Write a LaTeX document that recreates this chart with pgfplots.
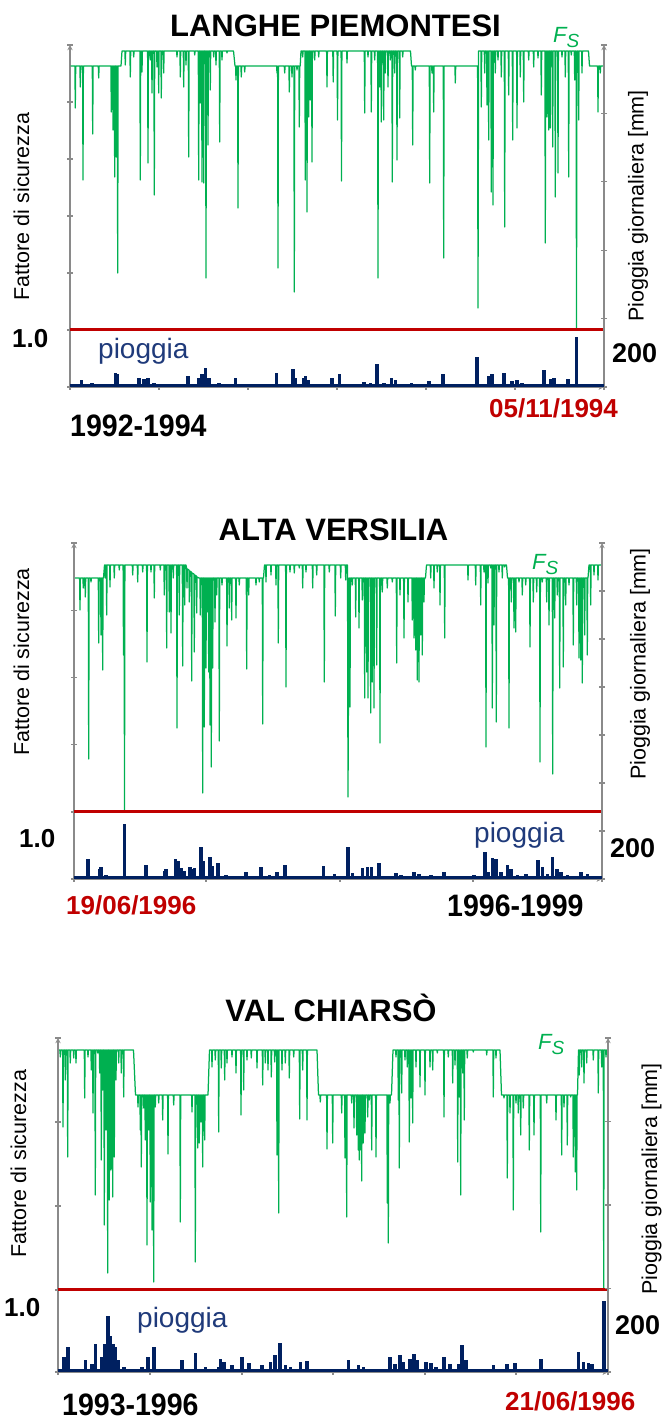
\documentclass[border=0pt]{standalone}
\usepackage{fontspec}
\setmainfont{Liberation Sans}
\usepackage{graphicx}
\usepackage{pgfplots}
\pgfplotsset{compat=1.18}
\definecolor{fsgreen}{HTML}{00B050}
\definecolor{redl}{HTML}{C00000}
\definecolor{navyr}{HTML}{002060}
\definecolor{pioggiac}{HTML}{1F3A7A}
\definecolor{axgray}{HTML}{8A8A8A}
\newcommand\ttl{\fontsize{31}{31}\selectfont\bfseries}
\newcommand\lab{\fontsize{21.5}{21.5}\selectfont}
\newcommand\numf{\fontsize{26}{26}\selectfont\bfseries}
\newcommand\numr{\fontsize{27}{27}\selectfont\bfseries}
\newcommand\pio{\fontsize{28}{28}\selectfont}
\newcommand\yr[1]{\scalebox{0.92}[1]{\fontsize{31}{31}\selectfont\bfseries #1}}
\newcommand\dt{\fontsize{26}{26}\selectfont\bfseries}
\newcommand\fs{{\fontsize{22}{22}\selectfont\itshape F\raisebox{-5pt}{\fontsize{19}{19}\selectfont S}}}
\pgfplotsset{
  baseax/.style={scale only axis, anchor=south west,
    axis line style={-, axgray, line width=1.3pt},
    every outer x axis line/.append style={-},
    every outer y axis line/.append style={-},
    tick style={axgray, line width=1.3pt}, major tick length=6pt, tick align=outside,
    xticklabels={}, yticklabels={}},
  fsax/.style={baseax, axis x line=bottom, axis y line=left},
  rainax/.style={baseax, axis x line=bottom, axis y line=right},
  fsline/.style={fsgreen, line width=1.25pt, line join=round, mark=none},
  redline/.style={redl, line width=3pt, mark=none},
  rainbase/.style={navyr, line width=6pt, mark=none},
  rainbar/.style={navyr, ycomb, line width=3.6pt, mark=none},
}
\begin{document}
\begin{tikzpicture}[x=1pt,y=1pt]
\path[use as bounding box] (0pt,0pt) rectangle (664pt,1419pt);
% ================= PANEL 1 =================
\begin{axis}[fsax, name=fsA, at={(70pt,1032pt)}, width=534pt, height=342pt, xmin=0, xmax=534, ymin=0.43, ymax=3.85,
  xtick={0,89,178,267,356,445,534}, ytick={0.43,1,1.57,2.14,2.71,3.28,3.85}]
\addplot[fsline] coordinates {
(0.5,3.64)
(4.9,3.64)(5.3,3.22)(5.7,3.64)(9.9,3.64)(10.3,3.43)(10.7,3.64)(12.6,3.64)(13.0,2.50)(13.4,3.64)
(22.3,3.64)(22.7,2.96)(23.1,3.64)(28.3,3.64)(28.7,3.52)(29.1,3.64)(40.9,3.64)(41.3,3.18)(41.7,3.64)
(42.6,3.64)(43.0,3.00)(43.4,3.64)(44.3,3.64)(44.7,2.53)(45.1,3.64)(45.9,3.64)(46.3,2.73)(46.7,3.64)
(47.3,3.64)(47.7,1.57)(48.1,3.64)
(51.0,3.64)(52.0,3.79)
(54.9,3.79)(55.3,3.65)(55.7,3.79)(59.9,3.79)(60.3,3.53)(60.7,3.79)(63.3,3.79)(63.7,3.73)(64.1,3.79)
(69.9,3.79)(70.3,2.50)(70.7,3.79)(71.6,3.79)(72.0,3.58)(72.4,3.79)(77.6,3.79)(78.0,2.67)(78.4,3.79)
(79.9,3.79)(80.3,3.70)(80.7,3.79)(81.6,3.79)(82.0,3.37)(82.4,3.79)(83.9,3.79)(84.3,2.35)(84.7,3.79)
(86.6,3.79)(87.0,3.63)(87.4,3.79)(88.3,3.79)(88.7,3.37)(89.1,3.79)(90.9,3.79)(91.3,3.32)(91.7,3.79)
(93.3,3.79)(93.7,3.57)(94.1,3.79)(106.6,3.79)(107.0,3.73)(107.4,3.79)(109.9,3.79)(110.3,3.53)(110.7,3.79)
(113.3,3.79)(113.7,3.43)(114.1,3.79)(115.6,3.79)(116.0,3.65)(116.4,3.79)(118.3,3.79)(118.7,2.73)(119.1,3.79)
(124.3,3.79)(124.7,3.75)(125.1,3.79)(128.3,3.79)(128.7,2.50)(129.1,3.79)(129.9,3.79)(130.3,3.27)(130.7,3.79)
(131.6,3.79)(132.0,2.48)(132.4,3.79)(133.3,3.79)(133.7,2.47)(134.1,3.79)(135.6,3.79)(136.0,1.52)(136.4,3.79)
(137.6,3.79)(138.0,2.85)(138.4,3.79)(139.9,3.79)(140.3,3.40)(140.7,3.79)(143.3,3.79)(143.7,3.73)(144.1,3.79)
(145.6,3.79)(146.0,3.65)(146.4,3.79)(149.3,3.79)(149.7,2.88)(150.1,3.79)(151.6,3.79)(152.0,3.70)(152.4,3.79)
(156.6,3.79)(157.0,3.77)(157.4,3.79)
(163.5,3.79)(165.0,3.64)
(165.6,3.64)(166.0,3.50)(166.4,3.64)(167.6,3.64)(168.0,2.22)(168.4,3.64)(170.9,3.64)(171.3,3.53)(171.7,3.64)
(174.3,3.64)(174.7,3.58)(175.1,3.64)(206.6,3.64)(207.0,3.57)(207.4,3.64)(207.6,3.64)(208.0,1.62)(208.4,3.64)
(214.3,3.64)(214.7,3.57)(215.1,3.64)(218.9,3.64)(219.3,3.38)(219.7,3.64)(221.6,3.64)(222.0,3.53)(222.4,3.64)
(223.9,3.64)(224.3,1.38)(224.7,3.64)(226.6,3.64)(227.0,3.60)(227.4,3.64)(228.9,3.64)(229.3,3.03)(229.7,3.64)
(230.2,3.64)(231.0,3.79)
(232.3,3.79)(232.7,3.73)(233.1,3.79)(234.9,3.79)(235.3,2.50)(235.7,3.79)(236.6,3.79)(237.0,2.18)(237.4,3.79)
(238.3,3.79)(238.7,3.13)(239.1,3.79)(239.9,3.79)(240.3,3.30)(240.7,3.79)(241.6,3.79)(242.0,2.68)(242.4,3.79)
(244.3,3.79)(244.7,3.70)(245.1,3.79)(248.3,3.79)(248.7,3.73)(249.1,3.79)(256.6,3.79)(257.0,3.43)(257.4,3.79)
(262.8,3.79)(263.2,3.48)(263.6,3.79)(267.1,3.79)(267.5,3.10)(267.9,3.79)(271.1,3.79)(271.5,2.49)(271.9,3.79)
(276.6,3.79)(277.0,3.67)(277.4,3.79)(294.3,3.79)(294.7,3.17)(295.1,3.79)(297.6,3.79)(298.0,3.73)(298.4,3.79)
(300.9,3.79)(301.3,3.18)(301.7,3.79)(304.3,3.79)(304.7,3.70)(305.1,3.79)(307.6,3.79)(308.0,1.52)(308.4,3.79)
(309.3,3.79)(309.7,3.43)(310.1,3.79)(310.9,3.79)(311.3,3.08)(311.7,3.79)(313.3,3.79)(313.7,3.10)(314.1,3.79)
(314.9,3.79)(315.3,3.57)(315.7,3.79)(317.6,3.79)(318.0,3.43)(318.4,3.79)(319.9,3.79)(320.3,3.70)(320.7,3.79)
(321.9,3.79)(322.3,2.48)(322.7,3.79)(324.3,3.79)(324.7,3.57)(325.1,3.79)(326.6,3.79)(327.0,2.70)(327.4,3.79)
(329.3,3.79)(329.7,3.12)(330.1,3.79)(332.3,3.79)(332.7,3.73)(333.1,3.79)
(340.5,3.79)(341.5,3.64)
(342.3,3.64)(342.7,2.85)(343.1,3.64)(344.9,3.64)(345.3,3.60)(345.7,3.64)(359.3,3.64)(359.7,2.47)(360.1,3.64)
(361.6,3.64)(362.0,3.57)(362.4,3.64)(363.3,3.64)(363.7,3.18)(364.1,3.64)(373.3,3.64)(373.7,1.72)(374.1,3.64)
(384.9,3.64)(385.3,3.47)(385.7,3.64)
(407.6,3.64)(408.0,1.22)(408.6,3.79)
(410.9,3.79)(411.3,3.23)(411.7,3.79)(414.3,3.79)(414.7,3.57)(415.1,3.79)(416.6,3.79)(417.0,3.25)(417.4,3.79)
(418.3,3.79)(418.7,2.90)(419.1,3.79)(420.9,3.79)(421.3,2.38)(421.7,3.79)(422.6,3.79)(423.0,2.25)(423.4,3.79)
(424.9,3.79)(425.3,3.57)(425.7,3.79)(427.6,3.79)(428.0,3.70)(428.4,3.79)(430.9,3.79)(431.3,3.53)(431.7,3.79)
(434.3,3.79)(434.7,2.03)(435.1,3.79)(438.3,3.79)(438.7,3.35)(439.1,3.79)(442.3,3.79)(442.7,2.90)(443.1,3.79)
(446.6,3.79)(447.0,3.02)(447.4,3.79)(449.9,3.79)(450.3,3.53)(450.7,3.79)(453.3,3.79)(453.7,3.28)(454.1,3.79)
(458.3,3.79)(458.7,3.70)(459.1,3.79)(463.3,3.79)(463.7,3.63)(464.1,3.79)(467.6,3.79)(468.0,3.72)(468.4,3.79)
(470.9,3.79)(471.3,3.35)(471.7,3.79)(474.9,3.79)(475.3,1.87)(475.7,3.79)(476.6,3.79)(477.0,3.13)(477.4,3.79)
(478.3,3.79)(478.7,3.00)(479.1,3.79)(479.9,3.79)(480.3,3.02)(480.7,3.79)(482.3,3.79)(482.7,2.83)(483.1,3.79)
(484.9,3.79)(485.3,2.33)(485.7,3.79)(487.6,3.79)(488.0,2.57)(488.4,3.79)(491.6,3.79)(492.0,3.73)(492.4,3.79)
(494.9,3.79)(495.3,3.53)(495.7,3.79)(498.3,3.79)(498.7,2.53)(499.1,3.79)(500.9,3.79)(501.3,3.75)(501.7,3.79)
(504.3,3.79)(504.7,3.50)(505.1,3.79)(506.1,3.79)(506.5,1.00)(506.9,3.79)(508.3,3.79)(508.7,3.10)(509.1,3.79)
(511.6,3.79)(512.0,3.57)(512.4,3.79)
(518.5,3.79)(519.5,3.64)
(527.6,3.64)(528.0,3.18)(528.4,3.64)(529.9,3.64)(530.3,3.57)(530.7,3.64)(533.5,3.64)
};
\addplot[redline] coordinates {(0,1)(534,1)};
\end{axis}
\begin{axis}[rainax, at={(fsA.south west)}, width=534pt, height=342pt, xmin=0, xmax=534, ymin=0, ymax=1000,
  xtick={0,89,178,267,356,445,534}, ytick={0,200,400,600,800,1000}]
\addplot[rainbase] coordinates {(0,0)(534,0)};
\addplot[rainbar] coordinates {
(3.7,8)(11.3,20)(22.0,13)(45.3,42)(47.0,37)(60.3,8)(68.7,25)(73.7,22)(78.0,25)(83.7,13)(92.0,8)
(118.0,32)(128.7,27)(132.0,37)(135.3,55)(138.7,27)(148.7,13)(165.3,25)(206.3,40)(222.7,52)(225.3,27)
(233.7,27)(235.3,32)(238.0,20)(255.3,8)(262.0,25)(269.5,37)(293.7,16)(300.3,13)(307.0,68)(313.7,13)
(321.3,27)(325.3,20)(341.3,13)(358.7,18)(372.7,37)(383.7,3)(407.0,88)(418.7,32)(422.0,37)(433.7,42)
(442.0,18)(447.0,20)(452.0,13)(473.7,49)(480.3,22)(483.7,25)(498.0,22)(506.5,146)(527.0,8)
};
\end{axis}
\node[anchor=base, inner sep=0] at (335.5pt,1382pt) {\ttl LANGHE PIEMONTESI};
\node[anchor=base west, inner sep=0, text=fsgreen] at (553pt,1376pt) {\fs};
\node[rotate=90, inner sep=0] at (21.5pt,1212.5pt) {\lab Fattore di sicurezza};
\node[rotate=90, inner sep=0] at (638pt,1213pt) {\lab Pioggia giornaliera [mm]};
\node[anchor=base west, inner sep=0] at (12pt,1071pt) {\numf 1.0};
\node[anchor=base west, inner sep=0, text=pioggiac] at (98pt,1060pt) {\pio pioggia};
\node[anchor=base west, inner sep=0] at (612pt,1056pt) {\numr 200};
\node[anchor=base west, inner sep=0] at (70pt,982pt) {\yr{1992-1994}};
\node[anchor=base west, inner sep=0, text=redl] at (489pt,1001pt) {\dt 05/11/1994};
% ================= PANEL 2 =================
\begin{axis}[fsax, name=fsB, at={(74pt,540pt)}, width=528pt, height=336pt, xmin=0, xmax=528, ymin=0.33, ymax=3.69,
  xtick={0,132,266,399,528}, ytick={0.33,1,1.6725,2.345,3.0175,3.69}]
\addplot[fsline] coordinates {
(1.0,3.34)
(5.6,3.34)(6.0,3.02)(6.4,3.34)(8.9,3.34)(9.3,3.24)(9.7,3.34)(10.9,3.34)(11.3,3.15)(11.7,3.34)
(14.3,3.34)(14.7,1.53)(15.1,3.34)(16.6,3.34)(17.0,3.30)(17.4,3.34)(24.3,3.34)(24.7,2.69)(25.1,3.34)
(26.6,3.34)(27.0,2.77)(27.4,3.34)(28.3,3.34)(28.7,2.42)(29.1,3.34)
(29.5,3.34)(30.5,3.47)
(30.8,3.47)(31.2,3.34)(31.6,3.47)(32.3,3.47)(32.7,2.97)(33.1,3.47)(35.6,3.47)(36.0,3.25)(36.4,3.47)
(39.9,3.47)(40.3,3.34)(40.7,3.47)(44.9,3.47)(45.3,3.42)(45.7,3.47)(49.1,3.47)(49.5,2.57)(49.9,3.47)
(50.1,3.47)(50.5,1.00)(50.9,3.47)(58.3,3.47)(58.7,3.37)(59.1,3.47)(63.3,3.47)(63.7,3.30)(64.1,3.47)
(68.3,3.47)(68.7,3.40)(69.1,3.47)(72.6,3.47)(73.0,2.50)(73.4,3.47)(76.6,3.47)(77.0,3.40)(77.4,3.47)
(79.9,3.47)(80.3,3.14)(80.7,3.47)(85.9,3.47)(86.3,3.42)(86.7,3.47)(89.9,3.47)(90.3,3.17)(90.7,3.47)
(92.3,3.47)(92.7,2.64)(93.1,3.47)(94.9,3.47)(95.3,3.00)(95.7,3.47)(96.6,3.47)(97.0,2.79)(97.4,3.47)
(98.9,3.47)(99.3,3.34)(99.7,3.47)(102.6,3.47)(103.0,1.84)(103.4,3.47)(104.9,3.47)(105.3,2.97)(105.7,3.47)
(108.3,3.47)(108.7,2.46)(109.1,3.47)(110.3,3.47)(110.7,3.07)(111.1,3.47)
(112.0,3.47)
(112.6,3.44)(113.0,3.24)(113.4,3.43)(114.9,3.42)(115.3,3.10)(115.7,3.41)(117.3,3.40)(117.7,2.31)(118.1,3.39)
(119.9,3.38)(120.3,2.60)(120.7,3.37)(122.3,3.36)(122.7,2.99)(123.1,3.35)
(125.0,3.34)
(125.9,3.34)(126.3,2.97)(126.7,3.34)(128.3,3.34)(128.7,1.19)(129.1,3.34)(129.9,3.34)(130.3,1.85)(130.7,3.34)
(131.6,3.34)(132.0,2.44)(132.4,3.34)(133.3,3.34)(133.7,3.00)(134.1,3.34)(134.3,3.34)(134.7,2.40)(135.1,3.34)
(135.6,3.34)(136.0,1.87)(136.4,3.34)(136.9,3.34)(137.3,1.45)(137.7,3.34)(138.3,3.34)(138.7,2.44)(139.1,3.34)
(140.6,3.34)(141.0,2.90)(141.4,3.34)(142.3,3.34)(142.7,3.17)(143.1,3.34)(144.9,3.34)(145.3,1.71)(145.7,3.34)
(147.6,3.34)(148.0,3.27)(148.4,3.34)(152.6,3.34)(153.0,2.66)(153.4,3.34)(154.9,3.34)(155.3,3.04)(155.7,3.34)
(157.3,3.34)(157.7,2.92)(158.1,3.34)(161.6,3.34)(162.0,2.94)(162.4,3.34)(164.9,3.34)(165.3,3.27)(165.7,3.34)
(172.3,3.34)(172.7,2.43)(173.1,3.34)(174.3,3.34)(174.7,3.17)(175.1,3.34)(181.6,3.34)(182.0,3.27)(182.4,3.34)
(184.9,3.34)(185.3,3.30)(185.7,3.34)(188.3,3.34)(188.7,1.88)(189.1,3.34)
(189.5,3.34)(190.5,3.47)
(191.6,3.47)(192.0,3.30)(192.4,3.47)(196.6,3.47)(197.0,3.37)(197.4,3.47)(201.6,3.47)(202.0,3.27)(202.4,3.47)
(203.9,3.47)(204.3,2.69)(204.7,3.47)(211.6,3.47)(212.0,2.25)(212.4,3.47)(215.6,3.47)(216.0,3.40)(216.4,3.47)
(219.9,3.47)(220.3,3.39)(220.7,3.47)(224.9,3.47)(225.3,3.44)(225.7,3.47)(228.3,3.47)(228.7,3.24)(229.1,3.47)
(231.6,3.47)(232.0,3.40)(232.4,3.47)(238.3,3.47)(238.7,3.24)(239.1,3.47)(242.3,3.47)(242.7,3.37)(243.1,3.47)
(249.9,3.47)(250.3,2.30)(250.7,3.47)(254.9,3.47)(255.3,3.40)(255.7,3.47)(260.9,3.47)(261.3,2.96)(261.7,3.47)
(266.3,3.47)(266.7,3.34)(267.1,3.47)(271.3,3.47)(271.7,3.32)(272.1,3.47)
(273.5,3.47)(274.0,1.15)(275.0,3.34)
(275.6,3.34)(276.0,2.05)(276.4,3.34)(277.9,3.34)(278.3,3.27)(278.7,3.34)(281.3,3.34)(281.7,2.95)(282.1,3.34)
(284.6,3.34)(285.0,2.84)(285.4,3.34)(287.9,3.34)(288.3,3.12)(288.7,3.34)(290.3,3.34)(290.7,2.14)(291.1,3.34)
(292.3,3.34)(292.7,2.40)(293.1,3.34)(293.6,3.34)(294.0,2.14)(294.4,3.34)(296.3,3.34)(296.7,1.99)(297.1,3.34)
(297.9,3.34)(298.3,2.30)(298.7,3.34)(299.6,3.34)(300.0,2.04)(300.4,3.34)(302.3,3.34)(302.7,2.47)(303.1,3.34)
(305.6,3.34)(306.0,1.69)(306.4,3.34)(307.9,3.34)(308.3,3.20)(308.7,3.34)(312.9,3.34)(313.3,3.24)(313.7,3.34)
(317.9,3.34)(318.3,3.30)(318.7,3.34)(322.3,3.34)(322.7,2.49)(323.1,3.34)(325.6,3.34)(326.0,3.17)(326.4,3.34)
(329.6,3.34)(330.0,2.74)(330.4,3.34)(333.6,3.34)(334.0,3.10)(334.4,3.34)(337.9,3.34)(338.3,2.92)(338.7,3.34)
(339.6,3.34)(340.0,2.74)(340.4,3.34)(341.3,3.34)(341.7,2.62)(342.1,3.34)(342.9,3.34)(343.3,2.32)(343.7,3.34)
(344.6,3.34)(345.0,2.30)(345.4,3.34)(346.3,3.34)(346.7,2.77)(347.1,3.34)(347.9,3.34)(348.3,2.57)(348.7,3.34)
(349.6,3.34)(350.0,3.10)(350.4,3.34)
(351.5,3.34)(352.5,3.47)
(356.3,3.47)(356.7,3.34)(357.1,3.47)(359.6,3.47)(360.0,3.24)(360.4,3.47)(362.9,3.47)(363.3,3.40)(363.7,3.47)
(365.6,3.47)(366.0,3.07)(366.4,3.47)(370.3,3.47)(370.7,2.74)(371.1,3.47)(393.6,3.47)(394.0,3.32)(394.4,3.47)
(401.3,3.47)(401.7,3.27)(402.1,3.47)(406.3,3.47)(406.7,3.07)(407.1,3.47)(409.6,3.47)(410.0,3.40)(410.4,3.47)
(411.6,3.47)(412.0,1.65)(412.4,3.47)(413.6,3.47)(414.0,3.29)(414.4,3.47)(416.3,3.47)(416.7,3.44)(417.1,3.47)
(417.9,3.47)(418.3,2.04)(418.7,3.47)(419.6,3.47)(420.0,2.87)(420.4,3.47)(421.9,3.47)(422.3,1.90)(422.7,3.47)
(424.6,3.47)(425.0,3.40)(425.4,3.47)(427.9,3.47)(428.3,3.34)(428.7,3.47)(430.3,3.47)(430.7,3.45)(431.1,3.47)
(432.5,3.47)(433.5,3.34)
(434.6,3.34)(435.0,1.84)(435.4,3.34)(436.9,3.34)(437.3,3.10)(437.7,3.34)(439.6,3.34)(440.0,2.84)(440.4,3.34)
(441.3,3.34)(441.7,2.80)(442.1,3.34)(444.6,3.34)(445.0,3.30)(445.4,3.34)(447.9,3.34)(448.3,3.17)(448.7,3.34)
(451.3,3.34)(451.7,3.27)(452.1,3.34)(455.6,3.34)(456.0,2.65)(456.4,3.34)(458.9,3.34)(459.3,3.10)(459.7,3.34)
(462.3,3.34)(462.7,3.20)(463.1,3.34)(465.6,3.34)(466.0,1.50)(466.4,3.34)(467.9,3.34)(468.3,3.30)(468.7,3.34)
(472.3,3.34)(472.7,3.10)(473.1,3.34)(474.6,3.34)(475.0,2.87)(475.4,3.34)(478.3,3.34)(478.7,1.38)(479.1,3.34)
(480.3,3.34)(480.7,2.94)(481.1,3.34)(482.9,3.34)(483.3,3.17)(483.7,3.34)(485.3,3.34)(485.7,2.24)(486.1,3.34)
(488.9,3.34)(489.3,2.45)(489.7,3.34)(491.3,3.34)(491.7,3.07)(492.1,3.34)(494.6,3.34)(495.0,3.27)(495.4,3.34)
(498.9,3.34)(499.3,2.67)(499.7,3.34)(502.3,3.34)(502.7,3.07)(503.1,3.34)(504.6,3.34)(505.0,2.54)(505.4,3.34)
(506.3,3.34)(506.7,2.52)(507.1,3.34)(507.9,3.34)(508.3,2.29)(508.7,3.34)(510.3,3.34)(510.7,2.77)(511.1,3.34)
(512.9,3.34)(513.3,2.57)(513.7,3.34)
(514.0,3.34)(515.0,3.47)
(516.3,3.47)(516.7,3.07)(517.1,3.47)(519.6,3.47)(520.0,3.37)(520.4,3.47)(523.6,3.47)(524.0,3.32)(524.4,3.47)
(528.0,3.47)
};
\addplot[redline] coordinates {(0,1)(528,1)};
\end{axis}
\begin{axis}[rainax, at={(fsB.south west)}, width=528pt, height=336pt, xmin=0, xmax=528, ymin=0, ymax=1400,
  xtick={0,132,266,399,528}, ytick={0,200,400,600,800,1000,1200,1400}]
\addplot[rainbase] coordinates {(0,0)(528,0)};
\addplot[rainbar] coordinates {
(3.7,7)(13.7,83)(25.3,42)(27.0,49)(32.0,17)(50.5,229)(72.0,58)(78.7,14)(90.3,35)(92.0,42)(101.3,83)
(103.7,76)(107.0,44)(110.3,35)(116.0,49)(118.7,42)(120.3,44)(127.0,132)(128.7,76)(136.0,90)(137.7,56)
(143.7,67)(152.0,17)(162.0,14)(172.0,28)(187.0,51)(195.3,17)(202.7,31)(211.0,58)(222.0,14)(230.3,11)
(239.3,11)(249.3,56)(260.3,21)(273.8,135)(278.3,25)(288.3,44)(293.3,49)(297.3,49)(305.0,67)(310.0,14)
(321.7,25)(326.7,17)(340.0,28)(345.0,21)(356.7,17)(363.3,11)(370.0,28)(393.3,7)(400.0,17)(406.7,14)
(410.7,114)(414.0,31)(418.3,86)(421.7,83)(426.7,28)(433.3,58)(436.7,42)(443.3,17)(451.7,21)(455.0,14)
(464.0,81)(468.3,49)(473.3,21)(478.3,90)(482.7,42)(486.7,28)(493.3,17)(500.0,14)(506.7,31)(513.3,21)
(523.3,7)
};
\end{axis}
\node[anchor=base, inner sep=0] at (333.5pt,878pt) {\ttl ALTA VERSILIA};
\node[anchor=base west, inner sep=0, text=fsgreen] at (532pt,849pt) {\fs};
\node[rotate=90, inner sep=0] at (21.5pt,757pt) {\lab Fattore di sicurezza};
\node[rotate=90, inner sep=0] at (640pt,755pt) {\lab Pioggia giornaliera [mm]};
\node[anchor=base west, inner sep=0] at (19pt,571pt) {\numf 1.0};
\node[anchor=base west, inner sep=0, text=pioggiac] at (474pt,576pt) {\pio pioggia};
\node[anchor=base west, inner sep=0] at (610pt,561pt) {\numr 200};
\node[anchor=base west, inner sep=0, text=redl] at (66pt,504pt) {\dt 19/06/1996};
\node[anchor=base west, inner sep=0] at (447pt,502pt) {\yr{1996-1999}};
% ================= PANEL 3 =================
\begin{axis}[fsax, name=fsC, at={(58pt,47pt)}, width=550pt, height=334pt, xmin=0, xmax=550, ymin=0.18, ymax=3.52,
  xtick={0,92,184,275,367,458,550}, ytick={0.18,1,1.84,2.68,3.52}]
\addplot[fsline] coordinates {
(1.0,3.40)
(1.9,3.40)(2.3,3.33)(2.7,3.40)(4.6,3.40)(5.0,2.63)(5.4,3.40)(6.9,3.40)(7.3,3.10)(7.7,3.40)
(9.3,3.40)(9.7,2.33)(10.1,3.40)(11.9,3.40)(12.3,3.27)(12.7,3.40)(15.3,3.40)(15.7,3.32)(16.1,3.40)
(17.6,3.40)(18.0,3.27)(18.4,3.40)(26.3,3.40)(26.7,2.92)(27.1,3.40)(29.6,3.40)(30.0,3.33)(30.4,3.40)
(32.9,3.40)(33.3,3.20)(33.7,3.40)(34.6,3.40)(35.0,2.77)(35.4,3.40)(36.9,3.40)(37.3,1.95)(37.7,3.40)
(39.3,3.40)(39.7,3.37)(40.1,3.40)(41.3,3.40)(41.7,3.17)(42.1,3.40)(42.9,3.40)(43.3,2.30)(43.7,3.40)
(44.3,3.40)(44.7,3.00)(45.1,3.40)(45.9,3.40)(46.3,1.65)(46.7,3.40)(47.6,3.40)(48.0,2.60)(48.4,3.40)
(49.3,3.40)(49.7,1.17)(50.1,3.40)(50.9,3.40)(51.3,1.90)(51.7,3.40)(52.6,3.40)(53.0,2.20)(53.4,3.40)
(54.3,3.40)(54.7,1.93)(55.1,3.40)(55.9,3.40)(56.3,2.33)(56.7,3.40)(57.6,3.40)(58.0,3.10)(58.4,3.40)
(60.3,3.40)(60.7,3.27)(61.1,3.40)(62.9,3.40)(63.3,3.17)(63.7,3.40)(65.3,3.40)(65.7,2.93)(66.1,3.40)
(75.5,3.40)(77.5,2.95)
(79.6,2.95)(80.0,2.83)(80.4,2.95)(81.9,2.95)(82.3,2.60)(82.7,2.95)(82.9,2.95)(83.3,2.23)(83.7,2.95)
(85.3,2.95)(85.7,2.82)(86.1,2.95)(86.9,2.95)(87.3,2.50)(87.7,2.95)(88.6,2.95)(89.0,1.45)(89.4,2.95)
(90.3,2.95)(90.7,2.60)(91.1,2.95)(91.9,2.95)(92.3,1.88)(92.7,2.95)(93.6,2.95)(94.0,1.60)(94.4,2.95)
(95.3,2.95)(95.7,1.08)(96.1,2.95)(96.9,2.95)(97.3,2.83)(97.7,2.95)(100.3,2.95)(100.7,2.87)(101.1,2.95)
(104.3,2.95)(104.7,2.70)(105.1,2.95)(109.6,2.95)(110.0,2.36)(110.4,2.95)(115.3,2.95)(115.7,2.85)(116.1,2.95)
(121.9,2.95)(122.3,1.68)(122.7,2.95)(133.6,2.95)(134.0,2.78)(134.4,2.95)(136.9,2.95)(137.3,1.28)(137.7,2.95)
(139.3,2.95)(139.7,2.42)(140.1,2.95)(140.9,2.95)(141.3,2.47)(141.7,2.95)(142.6,2.95)(143.0,2.68)(143.4,2.95)
(144.3,2.95)(144.7,2.23)(145.1,2.95)(146.3,2.95)(146.7,2.50)(147.1,2.95)
(150.0,2.95)(151.5,3.40)
(153.6,3.40)(154.0,3.23)(154.4,3.40)(156.9,3.40)(157.3,3.30)(157.7,3.40)(160.3,3.40)(160.7,2.58)(161.1,3.40)
(162.9,3.40)(163.3,3.22)(163.7,3.40)(166.3,3.40)(166.7,3.10)(167.1,3.40)(168.6,3.40)(169.0,3.27)(169.4,3.40)
(173.6,3.40)(174.0,3.33)(174.4,3.40)(177.6,3.40)(178.0,3.17)(178.4,3.40)(182.6,3.40)(183.0,2.75)(183.4,3.40)
(185.3,3.40)(185.7,3.00)(186.1,3.40)(188.6,3.40)(189.0,3.30)(189.4,3.40)(192.9,3.40)(193.3,3.32)(193.7,3.40)
(198.6,3.40)(199.0,3.22)(199.4,3.40)(204.3,3.40)(204.7,3.05)(205.1,3.40)(206.9,3.40)(207.3,3.27)(207.7,3.40)
(209.6,3.40)(210.0,3.20)(210.4,3.40)(212.9,3.40)(213.3,3.13)(213.7,3.40)(216.3,3.40)(216.7,3.28)(217.1,3.40)
(218.6,3.40)(219.0,2.35)(219.4,3.40)(220.3,3.40)(220.7,1.77)(221.1,3.40)(223.6,3.40)(224.0,3.20)(224.4,3.40)
(226.9,3.40)(227.3,3.27)(227.7,3.40)(230.9,3.40)(231.3,3.12)(231.7,3.40)(235.3,3.40)(235.7,3.33)(236.1,3.40)
(241.3,3.40)(241.7,2.71)(242.1,3.40)(244.3,3.40)(244.7,3.20)(245.1,3.40)(248.6,3.40)(249.0,2.70)(249.4,3.40)
(259.0,3.40)(260.5,2.95)
(261.9,2.95)(262.3,2.88)(262.7,2.95)(268.6,2.95)(269.0,2.41)(269.4,2.95)(274.3,2.95)(274.7,2.47)(275.1,2.95)
(283.3,2.95)(283.7,2.77)(284.1,2.95)(286.6,2.95)(287.0,2.32)(287.4,2.95)(288.3,2.95)(288.7,1.73)(289.1,2.95)
(293.3,2.95)(293.7,2.87)(294.1,2.95)(295.6,2.95)(296.0,2.62)(296.4,2.95)(298.3,2.95)(298.7,2.55)(299.1,2.95)
(299.9,2.95)(300.3,2.40)(300.7,2.95)(300.9,2.95)(301.3,2.30)(301.7,2.95)(302.3,2.95)(302.7,2.40)(303.1,2.95)
(303.3,2.95)(303.7,2.09)(304.1,2.95)(304.9,2.95)(305.3,2.47)(305.7,2.95)(306.6,2.95)(307.0,2.57)(307.4,2.95)
(309.3,2.95)(309.7,2.73)(310.1,2.95)(310.9,2.95)(311.3,2.90)(311.7,2.95)(313.3,2.95)(313.7,2.40)(314.1,2.95)
(317.6,2.95)(318.0,2.33)(318.4,2.95)(328.9,2.95)(329.3,1.87)(329.7,2.95)(329.9,2.95)(330.3,1.47)(330.7,2.95)
(331.6,2.95)(332.0,2.87)(332.4,2.95)
(333.5,2.95)(335.0,3.40)
(337.6,3.40)(338.0,3.33)(338.4,3.40)(339.9,3.40)(340.3,2.90)(340.7,3.40)(340.9,3.40)(341.3,2.22)(341.7,3.40)
(343.3,3.40)(343.7,2.97)(344.1,3.40)(346.6,3.40)(347.0,3.30)(347.4,3.40)(348.9,3.40)(349.3,3.23)(349.7,3.40)
(350.9,3.40)(351.3,2.48)(351.7,3.40)(352.6,3.40)(353.0,2.92)(353.4,3.40)(354.3,3.40)(354.7,2.67)(355.1,3.40)
(357.6,3.40)(358.0,3.23)(358.4,3.40)(361.6,3.40)(362.0,3.03)(362.4,3.40)(366.6,3.40)(367.0,2.95)(367.4,3.40)
(371.6,3.40)(372.0,3.23)(372.4,3.40)(374.3,3.40)(374.7,3.20)(375.1,3.40)(378.9,3.40)(379.3,3.37)(379.7,3.40)
(385.6,3.40)(386.0,2.73)(386.4,3.40)(389.9,3.40)(390.3,3.33)(390.7,3.40)(394.3,3.40)(394.7,3.07)(395.1,3.40)
(396.6,3.40)(397.0,3.25)(397.4,3.40)(399.3,3.40)(399.7,2.28)(400.1,3.40)(400.9,3.40)(401.3,2.93)(401.7,3.40)
(402.3,3.40)(402.7,1.95)(403.1,3.40)(404.3,3.40)(404.7,3.17)(405.1,3.40)(405.9,3.40)(406.3,2.70)(406.7,3.40)
(408.9,3.40)(409.3,3.32)(409.7,3.40)(414.9,3.40)(415.3,3.38)(415.7,3.40)(428.3,3.40)(428.7,3.35)(429.1,3.40)
(434.9,3.40)(435.3,2.93)(435.7,3.40)(437.6,3.40)(438.0,3.32)(438.4,3.40)
(442.0,3.40)(443.5,2.95)
(445.6,2.95)(446.0,2.92)(446.4,2.95)(448.9,2.95)(449.3,2.12)(449.7,2.95)(451.6,2.95)(452.0,2.77)(452.4,2.95)
(454.9,2.95)(455.3,1.80)(455.7,2.95)(457.6,2.95)(458.0,2.87)(458.4,2.95)(459.9,2.95)(460.3,2.77)(460.7,2.95)
(462.3,2.95)(462.7,2.55)(463.1,2.95)(464.9,2.95)(465.3,2.82)(465.7,2.95)(470.9,2.95)(471.3,2.40)(471.7,2.95)
(475.6,2.95)(476.0,2.55)(476.4,2.95)(482.3,2.95)(482.7,1.58)(483.1,2.95)(488.3,2.95)(488.7,2.87)(489.1,2.95)
(497.6,2.95)(498.0,2.70)(498.4,2.95)(503.3,2.95)(503.7,2.35)(504.1,2.95)(505.6,2.95)(506.0,2.83)(506.4,2.95)
(508.9,2.95)(509.3,2.45)(509.7,2.95)(512.3,2.95)(512.7,2.93)(513.1,2.95)(514.9,2.95)(515.3,2.33)(515.7,2.95)
(516.9,2.95)(517.3,2.18)(517.7,2.95)(518.3,2.95)(518.7,2.00)(519.1,2.95)
(519.5,2.95)(520.5,3.40)
(520.9,3.40)(521.3,3.15)(521.7,3.40)(523.3,3.40)(523.7,3.23)(524.1,3.40)(525.6,3.40)(526.0,3.07)(526.4,3.40)
(528.3,3.40)(528.7,3.27)(529.1,3.40)(534.9,3.40)(535.3,3.30)(535.7,3.40)(539.9,3.40)(540.3,2.97)(540.7,3.40)
(543.3,3.40)(543.7,3.23)(544.1,3.40)(545.3,3.40)(545.7,1.00)(546.1,3.40)(547.6,3.40)(548.0,3.33)(548.4,3.40)
(549.5,3.40)
};
\addplot[redline] coordinates {(0,1)(550,1)};
\end{axis}
\begin{axis}[rainax, at={(fsC.south west)}, width=550pt, height=334pt, xmin=0, xmax=550, ymin=0, ymax=800,
  xtick={0,92,184,275,367,458,550}, ytick={0,200,400,600,800}]
\addplot[rainbase] coordinates {(0,0)(550,0)};
\addplot[rainbar] coordinates {
(5.7,36)(10.0,60)(15.7,8)(27.3,28)(34.0,20)(37.3,67)(44.0,36)(46.7,67)(50.0,133)(52.3,87)(54.7,67)
(57.3,60)(60.0,28)(65.7,12)(77.3,4)(84.0,12)(90.0,36)(95.7,60)(100.7,4)(112.3,6)(124.0,28)(137.3,45)
(147.3,13)(154.0,8)(160.7,12)(162.3,32)(165.7,24)(174.0,16)(184.0,36)(190.7,21)(204.0,16)(212.3,24)
(216.7,40)(221.7,69)(227.3,16)(232.3,12)(242.3,24)(249.0,26)(257.3,4)(270.7,8)(277.0,8)(290.3,28)
(300.3,16)(305.3,12)(315.3,8)(320.3,8)(332.0,36)(337.0,20)(342.0,40)(345.3,24)(352.0,32)(356.0,42)
(359.3,28)(368.0,24)(372.7,21)(378.0,12)(386.0,36)(392.0,20)(400.3,20)(403.7,64)(408.0,28)(418.7,4)
(435.3,16)(442.0,8)(448.7,20)(457.0,21)(463.7,8)(472.0,6)(482.7,32)(495.3,4)(505.3,6)(511.3,8)
(520.3,48)(525.3,24)(530.3,21)(533.7,20)(541.3,4)(545.7,169)
};
\end{axis}
\node[anchor=base, inner sep=0] at (331pt,397pt) {\ttl VAL CHIARSÒ};
\node[anchor=base west, inner sep=0, text=fsgreen] at (538pt,369pt) {\fs};
\node[rotate=90, inner sep=0] at (18.5pt,255.5pt) {\lab Fattore di sicurezza};
\node[rotate=90, inner sep=0] at (651.5pt,240pt) {\lab Pioggia giornaliera [mm]};
\node[anchor=base west, inner sep=0] at (4pt,102pt) {\numf 1.0};
\node[anchor=base west, inner sep=0, text=pioggiac] at (137pt,91pt) {\pio pioggia};
\node[anchor=base west, inner sep=0] at (615pt,84pt) {\numr 200};
\node[anchor=base west, inner sep=0] at (62pt,4pt) {\yr{1993-1996}};
\node[anchor=base west, inner sep=0, text=redl] at (505pt,9pt) {\dt 21/06/1996};
\end{tikzpicture}
\end{document}
